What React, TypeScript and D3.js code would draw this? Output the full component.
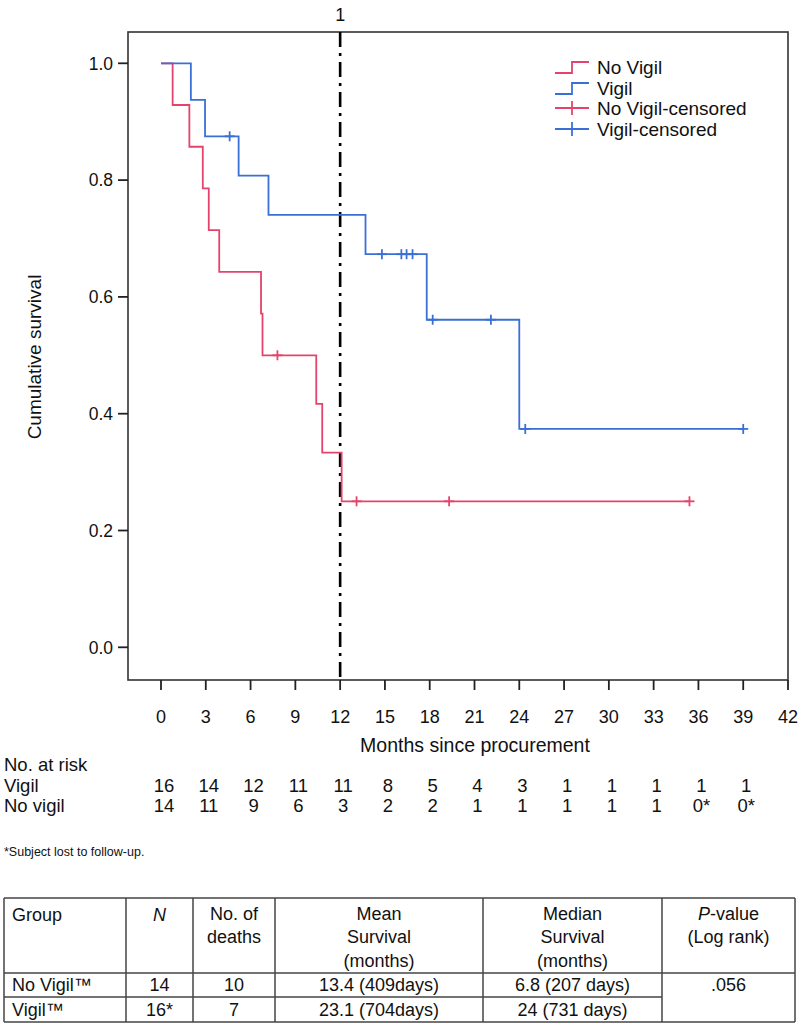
import React from "react";
import * as d3 from "d3";

// ---- Data ----
const monthTicks = [0, 3, 6, 9, 12, 15, 18, 21, 24, 27, 30, 33, 36, 39, 42];
const survTicks = [0, 0.2, 0.4, 0.6, 0.8, 1.0];

// Vigil (blue) step curve
const vigilTimes = [0, 2.0, 2.95, 5.2, 7.2, 13.7, 17.8, 24.0, 39.0];
const vigilSurv = [1.0, 0.9375, 0.875, 0.8077, 0.7404, 0.6731, 0.5609, 0.3739, 0.3739];
const vigilCensored = [4.6, 14.8, 16.1, 16.45, 16.85, 18.2, 22.1, 24.4, 39.0];

// No Vigil (red) step curve
const noVigilTimes = [0, 0.78, 1.9, 2.8, 3.2, 3.9, 6.7, 6.8, 10.4, 10.8, 12.1, 35.4];
const noVigilSurv = [1.0, 0.9286, 0.8571, 0.7857, 0.7143, 0.6429, 0.5714, 0.5, 0.4167, 0.3333, 0.25, 0.25];
const noVigilCensored = [7.8, 13.1, 19.3, 35.4];

// Numbers at risk
const riskMonths = [0, 3, 6, 9, 12, 15, 18, 21, 24, 27, 30, 33, 36, 39];
const riskVigil = ["16", "14", "12", "11", "11", "8", "5", "4", "3", "1", "1", "1", "1", "1"];
const riskNoVigil = ["14", "11", "9", "6", "3", "2", "2", "1", "1", "1", "1", "1", "0*", "0*"];

// Summary table
const tableGroups = ["No Vigil™", "Vigil™"];
const tableN = ["14", "16*"];
const tableDeaths = ["10", "7"];
const tableMean = ["13.4 (409days)", "23.1 (704days)"];
const tableMedian = ["6.8 (207 days)", "24 (731 days)"];
const tablePValue = ".056";

const legendLabels = ["No Vigil", "Vigil", "No Vigil-censored", "Vigil-censored"];

const RED = "#e4446c";
const BLUE = "#3b6fd8";
const FONT = "'Liberation Sans', Arial, Helvetica, sans-serif";

function stepValue(times: number[], surv: number[], t: number) {
  let v = surv[0];
  for (let i = 0; i < times.length; i++) if (times[i] <= t) v = surv[i];
  return v;
}

export default function App() {
  const W = 799, H = 1030;
  const frame = { left: 128, right: 788, top: 32, bottom: 680 };
  const x = d3.scaleLinear().domain([0, 42]).range([161, 788]);
  const y = d3.scaleLinear().domain([0, 1]).range([647.3, 63.3]);

  const line = d3
    .line<[number, number]>()
    .x((d) => x(d[0]))
    .y((d) => y(d[1]))
    .curve(d3.curveStepAfter);

  const vigilPts = vigilTimes.map((t, i) => [t, vigilSurv[i]] as [number, number]);
  const noVigilPts = noVigilTimes.map((t, i) => [t, noVigilSurv[i]] as [number, number]);

  const cross = (cx: number, cy: number, color: string, key: string) => (
    <g key={key} stroke={color} strokeWidth={1.8}>
      <line x1={cx - 5} x2={cx + 5} y1={cy} y2={cy} />
      <line x1={cx} x2={cx} y1={cy - 5} y2={cy + 5} />
    </g>
  );

  // table geometry
  const colX = [4, 126, 193, 275, 483, 662, 795];
  const rowY = [898, 973, 997, 1022];
  const colC = colX.slice(0, -1).map((c, i) => (c + colX[i + 1]) / 2);
  const tStroke = "#444";

  const legendX0 = 555, legendX1 = 589, legendTextX = 597;
  const legendY = [67, 88, 108, 129];

  return (
    <svg width={W} height={H} style={{ position: "absolute", left: 0, top: 0, background: "#fff" }} fontFamily={FONT}>
      <rect x={0} y={0} width={W} height={H} fill="#fff" />
      {/* frame */}
      <rect x={frame.left} y={frame.top} width={frame.right - frame.left} height={frame.bottom - frame.top} fill="none" stroke="#333" strokeWidth={1.6} />

      {/* y axis ticks */}
      {survTicks.map((v) => (
        <g key={"yt" + v}>
          <line x1={frame.left - 10} x2={frame.left} y1={y(v)} y2={y(v)} stroke="#222" strokeWidth={1.8} />
          <text x={frame.left - 15} y={y(v)} dy="0.36em" textAnchor="end" fontSize={17.5} fill="#111">
            {v.toFixed(1)}
          </text>
        </g>
      ))}
      <text transform={`translate(41,357) rotate(-90)`} textAnchor="middle" fontSize={19} fill="#111">
        Cumulative survival
      </text>

      {/* x axis ticks */}
      {monthTicks.map((m) => (
        <g key={"xt" + m}>
          <line x1={x(m)} x2={x(m)} y1={frame.bottom} y2={frame.bottom + 10} stroke="#222" strokeWidth={1.8} />
          <text x={x(m)} y={723} textAnchor="middle" fontSize={18} fill="#111">
            {m}
          </text>
        </g>
      ))}
      <text x={475} y={752} textAnchor="middle" fontSize={19.5} fill="#111">
        Months since procurement
      </text>

      {/* top label at 12 months */}
      <text x={x(12)} y={21} textAnchor="middle" fontSize={18} fill="#111">
        1
      </text>
      {/* dash-dot reference line at 12 months */}
      <line x1={x(12)} x2={x(12)} y1={frame.top} y2={frame.bottom} stroke="#000" strokeWidth={2.6} strokeDasharray="15,6,3,6" />

      {/* curves */}
      <path d={line(noVigilPts) || ""} fill="none" stroke={RED} strokeWidth={1.8} />
      <path d={line(vigilPts) || ""} fill="none" stroke={BLUE} strokeWidth={1.8} />
      {noVigilCensored.map((t, i) => cross(x(t), y(stepValue(noVigilTimes, noVigilSurv, t)), RED, "rc" + i))}
      {vigilCensored.map((t, i) => cross(x(t), y(stepValue(vigilTimes, vigilSurv, t)), BLUE, "bc" + i))}

      {/* legend */}
      {legendLabels.map((lab, i) => {
        const color = i % 2 === 0 ? RED : BLUE;
        const ly = legendY[i];
        const mid = (legendX0 + legendX1) / 2;
        return (
          <g key={"lg" + i}>
            {i < 2 ? (
              <path d={`M${legendX0},${ly + 6}H${mid}V${ly - 5}H${legendX1}`} fill="none" stroke={color} strokeWidth={1.8} />
            ) : (
              <g stroke={color} strokeWidth={1.8}>
                <line x1={legendX0} x2={legendX1} y1={ly} y2={ly} />
                <line x1={mid} x2={mid} y1={ly - 7} y2={ly + 7} />
              </g>
            )}
            <text x={legendTextX} y={ly} dy="0.36em" fontSize={19} fill="#111">
              {lab}
            </text>
          </g>
        );
      })}

      {/* numbers at risk */}
      <text x={4} y={771} fontSize={18.5} fill="#111">No. at risk</text>
      <text x={4} y={792} fontSize={18.5} fill="#111">Vigil</text>
      <text x={4} y={812} fontSize={18.5} fill="#111">No vigil</text>
      {riskMonths.map((m, i) => (
        <g key={"rk" + i}>
          <text x={x(m) + 3} y={792} textAnchor="middle" fontSize={18.5} fill="#111">{riskVigil[i]}</text>
          <text x={x(m) + 3} y={812} textAnchor="middle" fontSize={18.5} fill="#111">{riskNoVigil[i]}</text>
        </g>
      ))}
      <text x={4} y={856} fontSize={12.5} fill="#111">*Subject lost to follow-up.</text>

      {/* summary table */}
      <g stroke={tStroke} strokeWidth={1.5}>
        <line x1={colX[0]} x2={colX[6]} y1={rowY[0]} y2={rowY[0]} />
        <line x1={colX[0]} x2={colX[6]} y1={rowY[1]} y2={rowY[1]} />
        <line x1={colX[0]} x2={colX[5]} y1={rowY[2]} y2={rowY[2]} />
        <line x1={colX[0]} x2={colX[6]} y1={rowY[3]} y2={rowY[3]} />
        {colX.map((cx, i) => (
          <line key={"cl" + i} x1={cx} x2={cx} y1={rowY[0]} y2={rowY[3]} />
        ))}
      </g>
      <g fontSize={18} fill="#111">
        <text x={colX[0] + 8} y={921}>Group</text>
        <text x={colC[1]} y={921} textAnchor="middle" fontStyle="italic">N</text>
        <text x={colC[2]} y={920} textAnchor="middle">No. of</text>
        <text x={colC[2]} y={943} textAnchor="middle">deaths</text>
        <text x={colC[3]} y={920} textAnchor="middle">Mean</text>
        <text x={colC[3]} y={943} textAnchor="middle">Survival</text>
        <text x={colC[3]} y={967} textAnchor="middle">(months)</text>
        <text x={colC[4]} y={920} textAnchor="middle">Median</text>
        <text x={colC[4]} y={943} textAnchor="middle">Survival</text>
        <text x={colC[4]} y={967} textAnchor="middle">(months)</text>
        <text x={colC[5]} y={920} textAnchor="middle"><tspan fontStyle="italic">P</tspan>-value</text>
        <text x={colC[5]} y={943} textAnchor="middle">(Log rank)</text>
        {tableGroups.map((g, i) => {
          const by = i === 0 ? 991 : 1016;
          return (
            <g key={"tr" + i}>
              <text x={colX[0] + 8} y={by}>{g}</text>
              <text x={colC[1]} y={by} textAnchor="middle">{tableN[i]}</text>
              <text x={colC[2]} y={by} textAnchor="middle">{tableDeaths[i]}</text>
              <text x={colC[3]} y={by} textAnchor="middle">{tableMean[i]}</text>
              <text x={colC[4]} y={by} textAnchor="middle">{tableMedian[i]}</text>
            </g>
          );
        })}
        <text x={colC[5]} y={991} textAnchor="middle">{tablePValue}</text>
      </g>
    </svg>
  );
}
